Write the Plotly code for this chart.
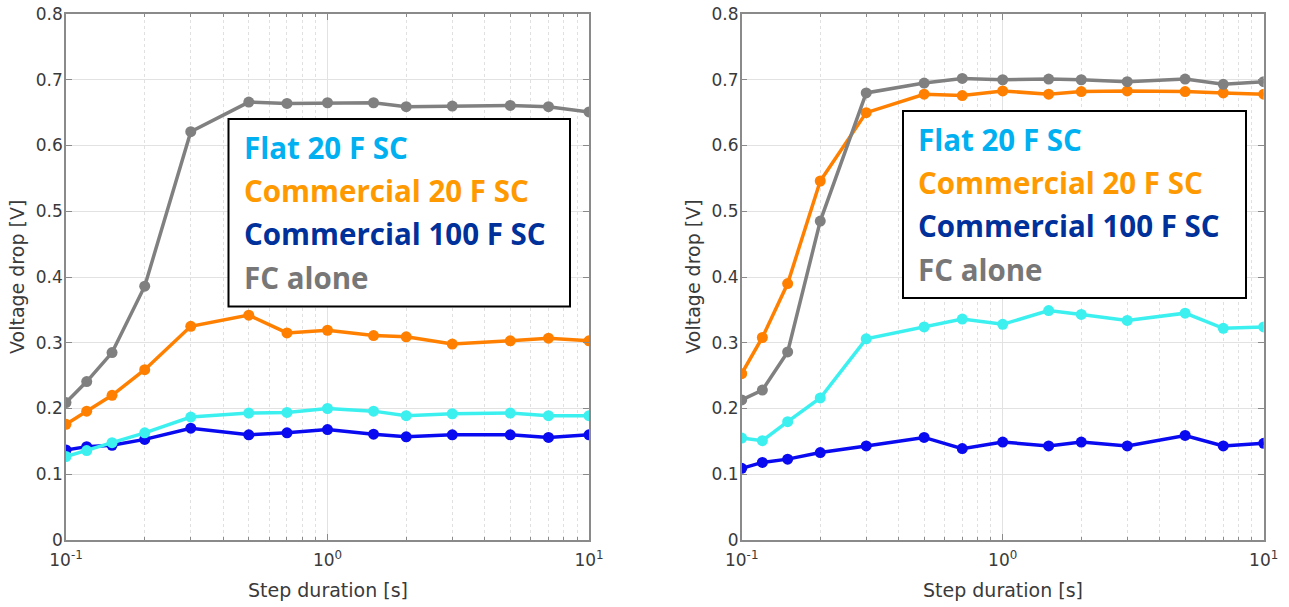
import plotly.graph_objects as go

W, H = 1289, 607

# ---------------- data ----------------
step_duration = [0.1, 0.12, 0.15, 0.2, 0.3, 0.5, 0.7, 1.0, 1.5, 2.0, 3.0, 5.0, 7.0, 10.0]

# left panel
left_flat20 = [0.127, 0.136, 0.148, 0.163, 0.187, 0.193, 0.194, 0.200, 0.196, 0.189, 0.192, 0.193, 0.189, 0.189]
left_comm20 = [0.176, 0.196, 0.220, 0.259, 0.325, 0.342, 0.315, 0.319, 0.311, 0.309, 0.298, 0.303, 0.307, 0.303]
left_comm100 = [0.137, 0.142, 0.144, 0.153, 0.170, 0.160, 0.163, 0.168, 0.161, 0.157, 0.160, 0.160, 0.156, 0.160]
left_fc = [0.209, 0.241, 0.285, 0.386, 0.621, 0.666, 0.664, 0.665, 0.665, 0.659, 0.660, 0.661, 0.659, 0.651]

# right panel
right_flat20 = [0.155, 0.151, 0.180, 0.216, 0.306, 0.324, 0.336, 0.328, 0.349, 0.343, 0.334, 0.345, 0.322, 0.324]
right_comm20 = [0.253, 0.308, 0.390, 0.546, 0.650, 0.678, 0.676, 0.683, 0.678, 0.682, 0.683, 0.682, 0.680, 0.678]
right_comm100 = [0.109, 0.118, 0.123, 0.133, 0.143, 0.156, 0.139, 0.149, 0.143, 0.149, 0.143, 0.159, 0.143, 0.147]
right_fc = [0.213, 0.228, 0.286, 0.485, 0.680, 0.695, 0.702, 0.700, 0.701, 0.700, 0.697, 0.701, 0.693, 0.697]

legend_labels = ["Flat 20 F SC", "Commercial 20 F SC", "Commercial 100 F SC", "FC alone"]
legend_text_colors = ["#00B0F0", "#FF9900", "#00309A", "#777777"]

x_tick_vals = [0.1, 1, 10]
x_tick_text = ["10<sup>-1</sup>", "10<sup>0</sup>", "10<sup>1</sup>"]
x_minor_vals = [0.2, 0.3, 0.4, 0.5, 0.6, 0.7, 0.8, 0.9, 2, 3, 4, 5, 6, 7, 8, 9]
y_tick_vals = [0, 0.1, 0.2, 0.3, 0.4, 0.5, 0.6, 0.7, 0.8]
y_tick_text = ["0", "0.1", "0.2", "0.3", "0.4", "0.5", "0.6", "0.7", "0.8"]

x_title = "Step duration [s]"
y_title = "Voltage drop [V]"

# ---------------- styles ----------------
line_colors = {"flat": "#3CF0F0", "comm20": "#FF8000", "comm100": "#0A0AF0", "fc": "#808080"}
LW = 3.5
MS = 11

fig = go.Figure()

def add_panel(xa, ya, flat, c20, c100, fc):
    for key, vals in [("comm100", c100), ("flat", flat), ("comm20", c20), ("fc", fc)]:
        fig.add_trace(go.Scatter(
            x=step_duration, y=vals, mode="lines+markers",
            line=dict(color=line_colors[key], width=LW),
            marker=dict(color=line_colors[key], size=MS),
            xaxis=xa, yaxis=ya, showlegend=False, hoverinfo="x+y"))

add_panel("x", "y", left_flat20, left_comm20, left_comm100, left_fc)
add_panel("x2", "y2", right_flat20, right_comm20, right_comm100, right_fc)

# panel pixel geometry
TOP, BOT = 14, 540
panels = [(66, 589), (741.7, 1263.7)]

def px(x):
    return x / W

def py(y):
    return 1 - y / H

tick_font = dict(family="DejaVu Sans", size=17, color="#3A3A3A")
axis_col = "#8A8A8A"

def xaxis_cfg(l, r, anchor):
    return dict(
        type="log", range=[-1, 1], domain=[px(l), px(r)], anchor=anchor,
        automargin=False,
        showline=True, linecolor=axis_col, linewidth=1.5, mirror="ticks",
        ticks="inside", ticklen=6, tickcolor=axis_col, tickwidth=1,
        tickmode="array", tickvals=x_tick_vals, ticktext=x_tick_text, tickfont=tick_font,
        ticklabelstandoff=4,
        showgrid=True, gridcolor="#E2E2E2", gridwidth=1,
        minor=dict(tickmode="array", tickvals=x_minor_vals, ticks="inside", ticklen=3,
                   tickcolor=axis_col, showgrid=True,
                   gridcolor="#E0E0E0", griddash="dot", gridwidth=1),
        zeroline=False, fixedrange=True,
    )

def yaxis_cfg(anchor):
    return dict(
        range=[0, 0.8], domain=[py(BOT), py(TOP)], anchor=anchor,
        automargin=False,
        showline=True, linecolor=axis_col, linewidth=1.5, mirror="ticks",
        ticks="inside", ticklen=6, tickcolor=axis_col, tickwidth=1,
        tickmode="array", tickvals=y_tick_vals, ticktext=y_tick_text, tickfont=tick_font,
        ticklabelstandoff=-2,
        showgrid=True, gridcolor="#E2E2E2", gridwidth=1,
        zeroline=False, fixedrange=True,
    )

fig.update_layout(
    width=W, height=H, margin=dict(l=0, r=0, t=0, b=0, autoexpand=False),
    paper_bgcolor="white", plot_bgcolor="white",
    xaxis=xaxis_cfg(*panels[0], "y"), yaxis=yaxis_cfg("x"),
    xaxis2=xaxis_cfg(*panels[1], "y2"), yaxis2=yaxis_cfg("x2"),
    showlegend=False,
)

annotations = []
shapes = []
title_font = dict(family="DejaVu Sans", size=19, color="#3A3A3A")

# legend boxes: (left, top, right, bottom), text x, first-line centre y
legend_boxes = [((228.5, 119, 570, 306.5), 242, 147.5), ((903, 111, 1246, 298), 916, 139.5)]
for (l, r), (box, tx, ty0) in zip(panels, legend_boxes):
    # axis titles
    annotations.append(dict(text=x_title, x=px((l + r) / 2), y=py(590), xref="paper", yref="paper",
                            xanchor="center", yanchor="middle", showarrow=False, font=title_font))
    annotations.append(dict(text=y_title, x=px(l - 49), y=py((TOP + BOT) / 2), xref="paper", yref="paper",
                            xanchor="center", yanchor="middle", showarrow=False, font=title_font, textangle=-90))
    bl, bt, br, bb = box
    shapes.append(dict(type="rect", xref="paper", yref="paper", x0=px(bl), x1=px(br), y0=py(bb), y1=py(bt),
                       line=dict(color="black", width=2), fillcolor="white", layer="above"))
    for i, (lab, col) in enumerate(zip(legend_labels, legend_text_colors)):
        annotations.append(dict(text="<b>%s</b>" % lab, x=px(tx), y=py(ty0 + 43.2 * i), xref="paper", yref="paper",
                                xanchor="left", yanchor="middle", showarrow=False,
                                font=dict(family="Open Sans", size=29.5, color=col)))

fig.update_layout(annotations=annotations, shapes=shapes)
# remove the default 8 px page margin so the figure fills the window exactly
fig.write_html("out.html", config={"displayModeBar": False},
               post_script="document.body.style.margin='0px';")
